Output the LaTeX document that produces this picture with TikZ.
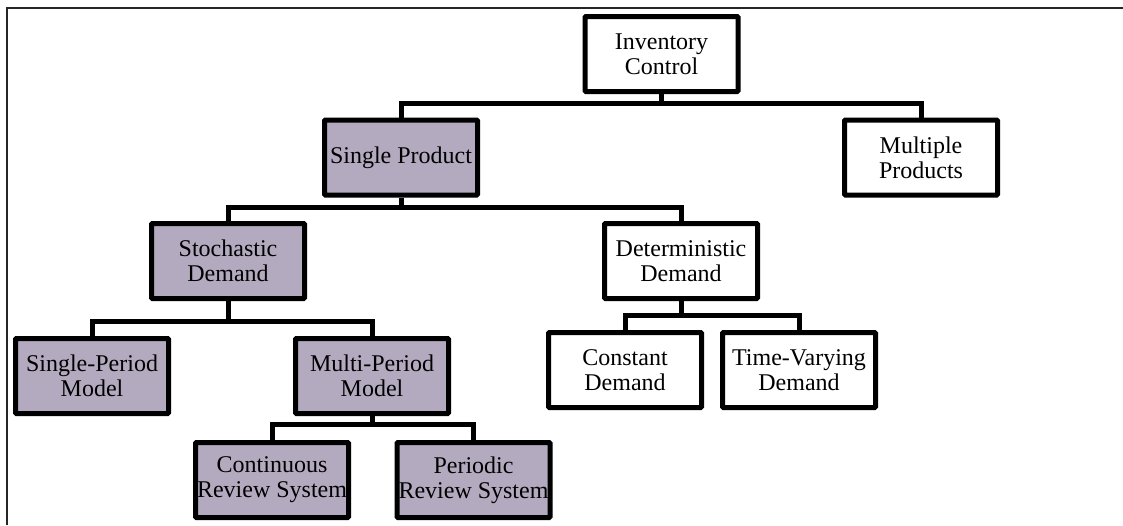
\documentclass[tikz,border=0pt]{standalone}
\usepackage{fontspec}
\setmainfont{Liberation Serif}
\definecolor{boxfill}{RGB}{179,170,192}
\begin{document}
\begin{tikzpicture}[x=1pt,y=1pt,
  box/.style={draw=black, line width=5pt, rounded corners=1pt, minimum width=153pt, minimum height=75pt,
    inner sep=0pt, align=center, font=\fontsize{24}{25}\selectfont, fill=white},
  shaded/.style={box, fill=boxfill},
  conn/.style={draw=black, line width=5pt}]
\useasboundingbox (0,0) rectangle (1123,-525);
\draw[line width=2pt, black!85] (7,-525) -- (7,-8) -- (1123,-8);

\node[box]    (ic)  at (661.5,-54)  {Inventory\\Control};
\node[shaded] (sp)  at (401,-157.5) {Single Product};
\node[box]    (mp)  at (921,-157.5) {Multiple\\Products};
\node[shaded] (sd)  at (228,-261)   {Stochastic\\Demand};
\node[box]    (dd)  at (681,-261)   {Deterministic\\Demand};
\node[shaded] (spm) at (92,-376)    {Single-Period\\Model};
\node[shaded] (mpm) at (372,-376)   {Multi-Period\\Model};
\node[box]    (cd)  at (625,-370)   {Constant\\Demand};
\node[box]    (tvd) at (799,-370)   {Time-Varying\\Demand};
\node[shaded] (crs) at (272,-480)   {Continuous\\Review System};
\node[shaded] (prs) at (473.5,-480) {Periodic\\Review System};

\coordinate (b1) at (0,-103);
\coordinate (b2) at (0,-207);
\coordinate (b3) at (0,-321);
\coordinate (b4) at (0,-315);
\coordinate (b5) at (0,-424);

\draw[conn] (ic.south) -- (ic.south |- b1);
\draw[conn] (sp.north) |- (mp.north |- b1) -- (mp.north);
\draw[conn] (sp.south) -- (sp.south |- b2);
\draw[conn] (sd.north) |- (dd.north |- b2) -- (dd.north);
\draw[conn] (sd.south) -- (sd.south |- b3);
\draw[conn] (spm.north) |- (mpm.north |- b3) -- (mpm.north);
\draw[conn] (dd.south) -- (dd.south |- b4);
\draw[conn] (cd.north) |- (tvd.north |- b4) -- (tvd.north);
\draw[conn] (mpm.south) -- (mpm.south |- b5);
\draw[conn] (crs.north) |- (prs.north |- b5) -- (prs.north);
\end{tikzpicture}
\end{document}
